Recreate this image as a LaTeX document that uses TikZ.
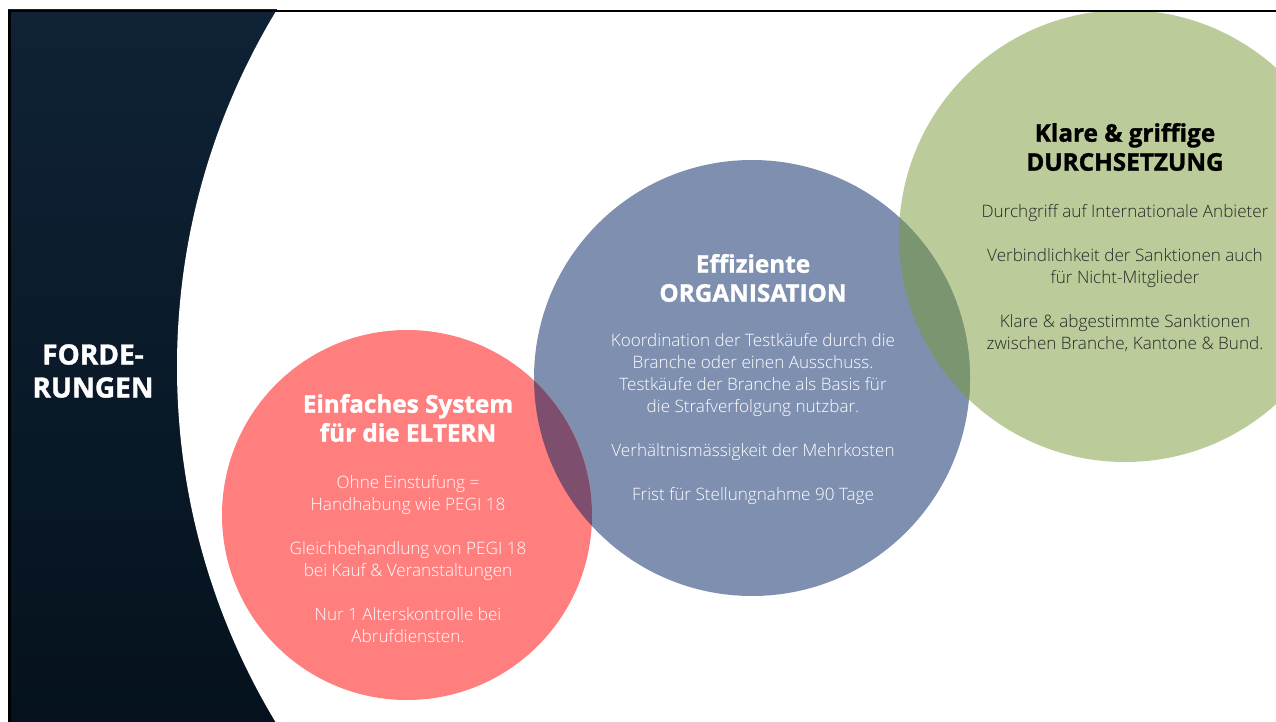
\documentclass[tikz,border=0pt]{standalone}
\usepackage{fontspec}
\setmainfont{Open Sans}
\newfontfamily\heavyfont{Open Sans}[FakeBold=1.3]
\newfontfamily\lightfont{Open Sans Light}
\definecolor{cred}{HTML}{FF7F7F}
\definecolor{cblue}{HTML}{7F8FAF}
\definecolor{cgreen}{HTML}{BBCB99}
\definecolor{credblue}{HTML}{7E4E6E}
\definecolor{cbluegreen}{HTML}{7A9570}
\definecolor{paneltop}{HTML}{0F2236}
\definecolor{panelbot}{HTML}{05121D}
\definecolor{bodygray}{HTML}{262626}
\begin{document}
\begin{tikzpicture}[x=1pt,y=-1pt,
  titletext/.style={font=\heavyfont\bfseries\fontsize{24.3}{29}\selectfont, align=center, text=white, inner sep=0pt},
  bodytext/.style={font=\lightfont\fontsize{17.1}{22}\selectfont, align=center, text=white, inner sep=0pt},
  sidetext/.style={font=\heavyfont\bfseries\fontsize{28}{33}\selectfont, align=center, text=white, inner sep=0pt}]
\useasboundingbox (0,0) rectangle (1276,722);
\clip (0,0) rectangle (1276,722);
\fill[white] (0,0) rectangle (1276,722);
% dark left panel
\shade[top color=paneltop, bottom color=panelbot] (8,10) rectangle (700,722);
\fill[white] (865,367) circle[radius=688pt];
% circles
\fill[cgreen] (1125,236) circle[radius=226pt];
\fill[cblue] (752,378) circle[radius=218pt];
\fill[cred] (407,515) circle[radius=185pt];
\begin{scope}
  \clip (407,515) circle[radius=185pt];
  \fill[credblue] (752,378) circle[radius=218pt];
\end{scope}
\begin{scope}
  \clip (752,378) circle[radius=218pt];
  \fill[cbluegreen] (1125,236) circle[radius=226pt];
\end{scope}
% frame lines
\fill[black] (8,10) rectangle (1276,12.5);
\fill[black] (8,10) rectangle (10.5,722);
% texts
\node[sidetext] (side) at (93,371) {FORDE-\\RUNGEN};
\node[titletext] (t1) at (408,418) {Einfaches System\\für die ELTERN};
\node[bodytext] (b1) at (408,559) {Ohne Einstufung =\\Handhabung wie PEGI 18\\[22pt]Gleichbehandlung von PEGI 18\\bei Kauf \& Veranstaltungen\\[22pt]Nur 1 Alterskontrolle bei\\Abrufdiensten.};
\node[titletext] (t2) at (753,278) {Effiziente\\ORGANISATION};
\node[bodytext] (b2) at (753,419) {Koordination der Testkäufe durch die\\Branche oder einen Ausschuss.\\Testkäufe der Branche als Basis für\\die Strafverfolgung nutzbar.\\[22pt]Verhältnismässigkeit der Mehrkosten\\[22pt]Frist für Stellungnahme 90 Tage};
\node[titletext, text=black] (t3) at (1125,147) {Klare \& griffige\\DURCHSETZUNG};
\node[bodytext, text=bodygray] (b3) at (1125,278) {Durchgriff auf Internationale Anbieter\\[22pt]Verbindlichkeit der Sanktionen auch\\für Nicht-Mitglieder\\[22pt]Klare \& abgestimmte Sanktionen\\zwischen Branche, Kantone \& Bund.};
\end{tikzpicture}
\end{document}
